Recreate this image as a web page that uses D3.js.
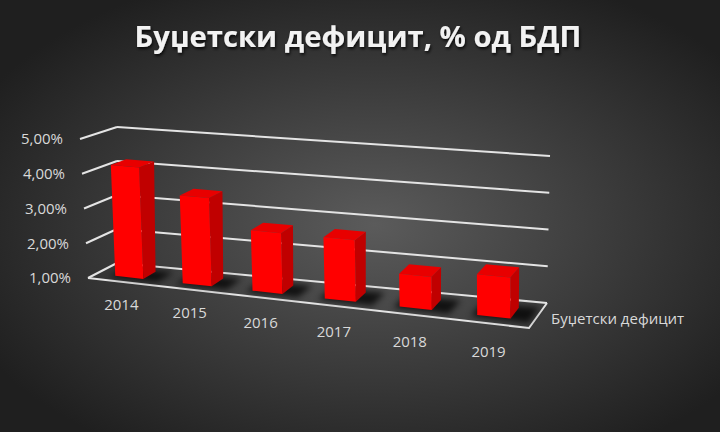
<!DOCTYPE html>
<html>
<head>
<meta charset="utf-8">
<script src="https://cdn.jsdelivr.net/npm/d3@7"></script>
<style>
  html, body { margin: 0; padding: 0; background: #2a2a2a; }
  svg { display: block; }
</style>
</head>
<body>
<div id="chart"></div>
<script>
const chartTitle = "Буџетски дефицит, % од БДП";
const seriesName = "Буџетски дефицит";
const years = ["2014", "2015", "2016", "2017", "2018", "2019"];
const deficit = [4.2, 3.5, 2.7, 2.7, 1.9, 2.1];
const yTicks = [1, 2, 3, 4, 5];
const yTickLabels = ["1,00%", "2,00%", "3,00%", "4,00%", "5,00%"];

const width = 720, height = 432;

// corners of the 3d plot box on screen: [u][v][w] -> u = category, v = value, w = depth (0 front, 1 back)
const box = {
  "000": [88, 278], "010": [80, 139], "001": [117, 263], "011": [117, 127],
  "100": [529, 328], "110": [527, 178], "101": [547, 303], "111": [550, 156]
};
const persp = 0.9; // left side is farther away

function warp(u) { return persp * u / (1 + (persp - 1) * u); }

function project(u, v, w) {
  u = warp(u);
  const out = [0, 0];
  for (const key in box) {
    const wu = key[0] === "1" ? u : 1 - u;
    const wv = key[1] === "1" ? v : 1 - v;
    const ww = key[2] === "1" ? w : 1 - w;
    const k = wu * wv * ww;
    out[0] += box[key][0] * k;
    out[1] += box[key][1] * k;
  }
  return out;
}

const x = d3.scaleBand().domain(years).range([0, 1]).paddingInner(0.58).paddingOuter(0.29);
const y = d3.scaleLinear().domain([1, 5]).range([0, 1]);
const barFront = 0.28, barBack = 0.72;

const svg = d3.select("#chart").append("svg")
    .attr("width", width)
    .attr("height", height);

const defs = svg.append("defs");
const bg = defs.append("radialGradient").attr("id", "bg")
    .attr("cx", "52%").attr("cy", "52%").attr("r", "62%");
bg.append("stop").attr("offset", "0%").attr("stop-color", "#5b5b5b");
bg.append("stop").attr("offset", "100%").attr("stop-color", "#1f1f1f");

defs.append("filter").attr("id", "blur")
    .attr("x", "-50%").attr("y", "-50%").attr("width", "200%").attr("height", "200%")
  .append("feGaussianBlur").attr("stdDeviation", 3);

defs.append("filter").attr("id", "tshadow")
  .append("feDropShadow").attr("dx", 1).attr("dy", 2).attr("stdDeviation", 1.5)
    .attr("flood-color", "#000").attr("flood-opacity", 0.8);

svg.append("rect").attr("width", width).attr("height", height).attr("fill", "url(#bg)");

const line = d3.line();
const gridColor = "#e4e4e4";

// back wall and side wall gridlines
const grid = svg.append("g").attr("fill", "none").attr("stroke", gridColor).attr("stroke-width", 2);
grid.selectAll(".back").data(yTicks).enter().append("path")
    .attr("d", d => line([project(0, y(d), 1), project(1, y(d), 1)]));
grid.selectAll(".side").data(yTicks).enter().append("path")
    .attr("d", d => line([project(0, y(d), 0), project(0, y(d), 1)]));
// floor front and right edges
grid.append("path").attr("d", line([project(0, 0, 0), project(1, 0, 0), project(1, 0, 1)]));

// y tick labels
svg.append("g").selectAll("text").data(yTicks).enter().append("text")
    .attr("x", d => project(0, y(d), 0)[0] - 17)
    .attr("y", d => project(0, y(d), 0)[1])
    .attr("dy", "0.35em")
    .attr("text-anchor", "end")
    .attr("font-family", "Open Sans")
    .attr("font-size", 15)
    .attr("fill", "#d9d9d9")
    .text((d, i) => yTickLabels[i]);

// category labels
svg.append("g").selectAll("text").data(years).enter().append("text")
    .attr("x", d => project(x(d) + x.bandwidth() / 2, 0, 0)[0])
    .attr("y", d => {
      const u = x(d) + x.bandwidth() / 2;
      return project(u, 0, 0)[1] + 22 + 7 * warp(u);
    })
    .attr("dy", "0.35em")
    .attr("text-anchor", "middle")
    .attr("font-family", "Open Sans")
    .attr("font-size", 15)
    .attr("fill", "#d9d9d9")
    .text(d => d);

// bars
const bars = svg.append("g").selectAll("g").data(years).enter().append("g");

bars.append("path")
    .attr("fill", "#000")
    .attr("opacity", 0.75)
    .attr("filter", "url(#blur)")
    .attr("d", d => {
      const u0 = x(d) - 0.01, u1 = x(d) + x.bandwidth() + 0.04;
      const w0 = barFront - 0.08, w1 = barBack + 0.06;
      return line([project(u0, 0, w0), project(u1, 0, w0), project(u1, 0, w1), project(u0, 0, w1)]) + "Z";
    });

function face(d, i, which) {
  const u0 = x(d), u1 = x(d) + x.bandwidth();
  const v = y(deficit[i]);
  const w0 = barFront, w1 = barBack;
  let pts;
  if (which === "front") pts = [[u0, 0, w0], [u1, 0, w0], [u1, v, w0], [u0, v, w0]];
  if (which === "side") pts = [[u1, 0, w0], [u1, 0, w1], [u1, v, w1], [u1, v, w0]];
  if (which === "top") pts = [[u0, v, w0], [u1, v, w0], [u1, v, w1], [u0, v, w1]];
  return line(pts.map(p => project(p[0], p[1], p[2]))) + "Z";
}

bars.append("path").attr("fill", "#c00000").attr("d", (d, i) => face(d, i, "side"));
bars.append("path").attr("fill", "#e80000").attr("d", (d, i) => face(d, i, "top"));
bars.append("path").attr("fill", "#ff0000").attr("d", (d, i) => face(d, i, "front"));

// series name at the depth axis
const legendAt = project(1, 0, 0.5);
svg.append("text")
    .attr("x", legendAt[0] + 13)
    .attr("y", legendAt[1] + 3)
    .attr("dy", "0.35em")
    .attr("font-family", "Open Sans")
    .attr("font-size", 15)
    .attr("fill", "#d9d9d9")
    .text(seriesName);

// title
const title = svg.append("text")
    .attr("x", width / 2 - 2)
    .attr("y", 47)
    .attr("text-anchor", "middle")
    .attr("font-family", "Open Sans")
    .attr("font-weight", "bold")
    .attr("font-size", 30)
    .attr("fill", "#f2f2f2")
    .attr("filter", "url(#tshadow)")
    .text(chartTitle);
const tw = title.node().getComputedTextLength();
title.attr("font-size", 30 * 447 / tw);
</script>
</body>
</html>
